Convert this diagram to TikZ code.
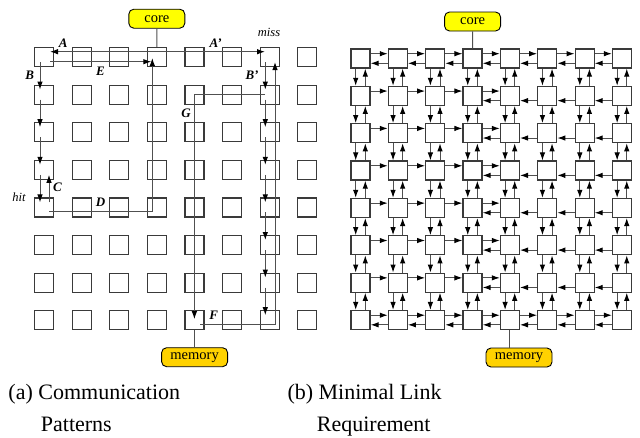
\documentclass[tikz,border=0pt]{standalone}
\usepackage{fontspec}
\setmainfont{Liberation Serif}
\usetikzlibrary{arrows.meta,calc}
\definecolor{boxc}{HTML}{3A3A3A}
\definecolor{linec}{HTML}{505050}
\definecolor{coreY}{HTML}{FFFF00}
\definecolor{memY}{HTML}{FFD200}
\begin{document}
\begin{tikzpicture}[x=1pt,y=-1pt,
  cell/.style={draw=boxc,line width=1.2pt,fill=white,minimum width=19pt,minimum height=19pt,inner sep=0pt},
  lnk/.style={draw=linec,line width=1pt,-{Latex[length=8pt,width=5.5pt,color=black]}},
  plain/.style={draw=linec,line width=1pt},
  corebox/.style={draw=black,line width=0.9pt,rounded corners=5pt,fill=coreY,minimum width=56pt,minimum height=19pt,inner sep=0pt,font=\fontsize{14.5}{14.5}\selectfont},
  membox/.style={corebox,fill=memY,minimum width=66pt},
  lab/.style={font=\fontsize{13}{13}\selectfont\bfseries\itshape,inner sep=0pt},
  note/.style={font=\fontsize{12.5}{12.5}\selectfont\itshape,inner sep=0pt},
  captext/.style={font=\fontsize{22}{22}\selectfont,inner sep=0pt,anchor=base west}]
\useasboundingbox (0,0) rectangle (640,437);

% ---------- left grid ----------
\foreach \i in {0,...,7}{\foreach \j in {0,...,7}{
  \node[cell] (l-\i-\j) at ({44+37.6*\i},{57+37.6*\j}) {};}}
\node[corebox] (lcore) at (156.8,18.7) {core};
\node[membox] (lmem) at (194.6,357.2) {memory};
\draw[plain] (lcore.south) -- (l-3-0.north);
\draw[plain] (l-4-7.south) -- (l-4-7.south |- lmem.north);

% A and A'
\coordinate (a0) at ($(l-3-0)+(3,-5.3)$);
\draw[lnk] (a0) -- ($(l-0-0)+(6,-5.3)$);
\draw[lnk] (a0) -- ($(l-6-0)+(-4.6,-5.3)$);
% E
\draw[lnk] ($(l-0-0)+(6,4.7)$) -- ($(l-3-0)+(-5.5,4.7)$);
% B
\foreach \j [count=\k from 1] in {0,...,3}{
  \draw[lnk] ($(l-0-\j)+(-4,5)$) -- ($(l-0-\k)+(-4,-5)$);}
% C
\draw[lnk] ($(l-0-4)+(5,-5)$) -- ($(l-0-3)+(5,5)$);
% D
\draw[lnk] ($(l-0-4)+(5,3.6)$) -| ($(l-3-0)+(-4.5,1)$);
% G
\draw[lnk] ($(l-6-1)+(-4.6,0)$) -| ($(l-4-7)+(0,-1)$);
% B'
\foreach \j [count=\k from 1] in {0,...,6}{
  \draw[lnk] ($(l-6-\j)+(-4.3,5)$) -- ($(l-6-\k)+(-4.3,-5)$);}
% F
\draw[lnk] ($(l-4-7)+(5.6,4.1)$) -| ($(l-6-0)+(5.4,5)$);

\node[lab] (lA) at (63.3,43) {A};
\node[lab] (lA2) at (215.7,43) {A'};
\node[lab] (lE) at (100.5,71) {E};
\node[lab] (lB) at (29.7,75) {B};
\node[lab] (lB2) at (252,75) {B'};
\node[lab] (lG) at (186,113.5) {G};
\node[lab] (lC) at (57.5,187.7) {C};
\node[lab] (lD) at (100.5,202) {D};
\node[lab] (lF) at (213.7,315.3) {F};
\node[note] (lmiss) at (269,32) {miss};
\node[note] (lhit) at (19,197) {hit};

% ---------- right grid ----------
\foreach \i in {0,...,7}{\foreach \j in {0,...,7}{
  \node[cell] (r-\i-\j) at ({360.5+37.35*\i},{58.5+37.36*\j}) {};}}
\node[corebox] (rcore) at (472.55,21.5) {core};
\node[membox] (rmem) at (519,357.5) {memory};
\draw[plain] (rcore.south) -- (r-3-0.north);
\draw[plain] (r-4-7.south) -- (r-4-7.south |- rmem.north);

\foreach \j in {0,7}{\foreach \i [count=\n from 1] in {0,...,6}{
  \draw[lnk] ([yshift=4.8pt]r-\i-\j.east) -- ([yshift=4.8pt]r-\n-\j.west);
  \draw[lnk] ([yshift=-4.8pt]r-\n-\j.west) -- ([yshift=-4.8pt]r-\i-\j.east);}}
\foreach \j in {1,...,6}{
  \foreach \i [count=\n from 1] in {0,...,3}{
    \draw[lnk] ([yshift=4.8pt]r-\i-\j.east) -- ([yshift=4.8pt]r-\n-\j.west);}
  \foreach \i [count=\n from 4] in {3,...,6}{
    \draw[lnk] ([yshift=-4.8pt]r-\n-\j.west) -- ([yshift=-4.8pt]r-\i-\j.east);}}
\foreach \i in {0,...,7}{\foreach \j [count=\n from 1] in {0,...,6}{
  \draw[lnk] ([xshift=-4.8pt]r-\i-\j.south) -- ([xshift=-4.8pt]r-\i-\n.north);
  \draw[lnk] ([xshift=4.8pt]r-\i-\n.north) -- ([xshift=4.8pt]r-\i-\j.south);}}

% ---------- captions ----------
\node[captext] (capa1) at (8.3,399) {(a) Communication};
\node[captext] (capa2) at (40.7,431.7) {Patterns};
\node[captext] (capb1) at (287.3,399) {(b) Minimal Link};
\node[captext] (capb2) at (316.7,431.7) {Requirement};
\end{tikzpicture}
\end{document}
